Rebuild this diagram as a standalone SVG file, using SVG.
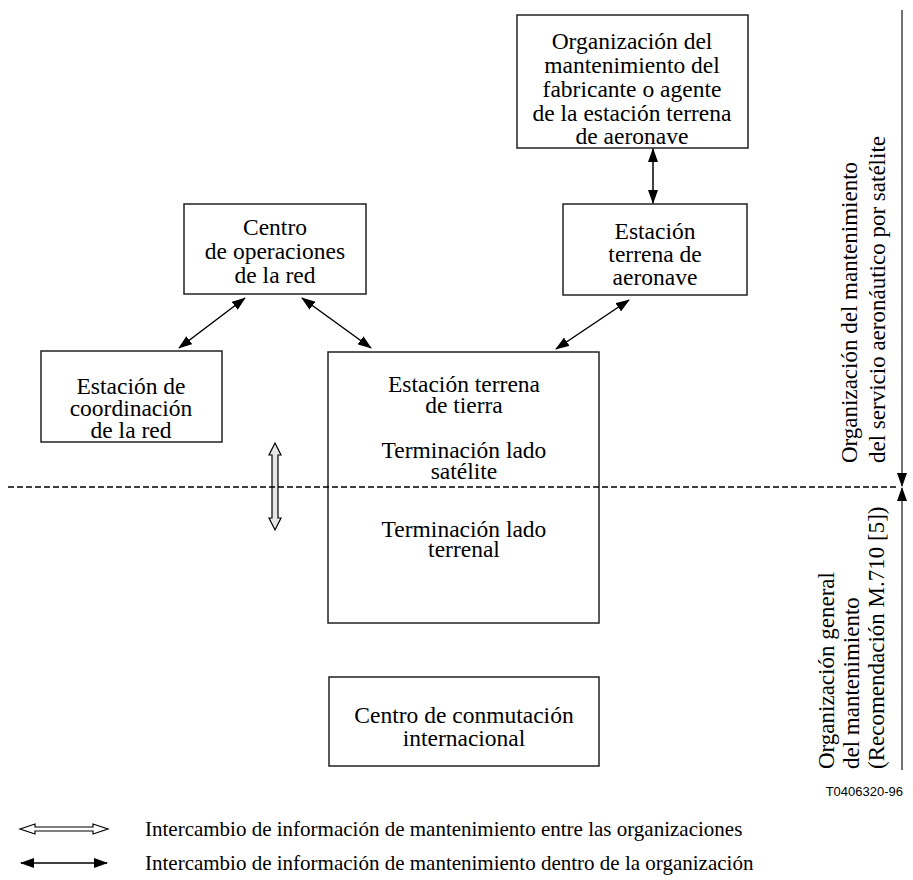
<svg xmlns="http://www.w3.org/2000/svg" width="913" height="880" viewBox="0 0 913 880">
<defs>
<style>
.box{fill:#fff;stroke:#222;stroke-width:1.5}
.t{font-family:"Liberation Serif","Times New Roman",serif;font-size:23.5px;fill:#000;text-anchor:middle}
.r{font-family:"Liberation Serif","Times New Roman",serif;font-size:23px;fill:#000}
.lg{font-family:"Liberation Serif","Times New Roman",serif;font-size:21px;fill:#000}
.c{stroke:#000;stroke-width:1.5;fill:none}
</style>
<marker id="ah" viewBox="0 0 14 10" refX="13" refY="5" markerWidth="14" markerHeight="10" markerUnits="userSpaceOnUse" orient="auto-start-reverse">
<path d="M0,0 L14,5 L0,10 Z" fill="#000"/>
</marker>
</defs>
<rect width="913" height="880" fill="#fff"/>

<g id="fabricante">
<rect class="box" x="517" y="15" width="231" height="133"/>
<text class="t" x="632" y="49">Organización del</text>
<text class="t" x="632" y="73">mantenimiento del</text>
<text class="t" x="632" y="97">fabricante o agente</text>
<text class="t" x="632" y="121">de la estación terrena</text>
<text class="t" x="632" y="144">de aeronave</text>
</g>

<g id="aeronave">
<rect class="box" x="563" y="204" width="184" height="91"/>
<text class="t" x="655" y="239">Estación</text>
<text class="t" x="655" y="262">terrena de</text>
<text class="t" x="655" y="285">aeronave</text>
</g>

<g id="centro-operaciones">
<rect class="box" x="184" y="204" width="182" height="90"/>
<text class="t" x="275" y="235">Centro</text>
<text class="t" x="275" y="259">de operaciones</text>
<text class="t" x="275" y="283">de la red</text>
</g>

<g id="coordinacion">
<rect class="box" x="41" y="351" width="181" height="91"/>
<text class="t" x="131" y="394">Estación de</text>
<text class="t" x="131" y="416">coordinación</text>
<text class="t" x="131" y="438">de la red</text>
</g>

<g id="terrena-tierra">
<rect class="box" x="328" y="352" width="271" height="271"/>
<text class="t" x="464" y="392">Estación terrena</text>
<text class="t" x="464" y="413">de tierra</text>
<text class="t" x="464" y="458">Terminación lado</text>
<text class="t" x="464" y="479">satélite</text>
<text class="t" x="464" y="537">Terminación lado</text>
<text class="t" x="464" y="557">terrenal</text>
</g>

<g id="conmutacion">
<rect class="box" x="329" y="677" width="270" height="89"/>
<text class="t" x="464" y="723">Centro de conmutación</text>
<text class="t" x="464" y="746">internacional</text>
</g>

<g id="connectors">
<line class="c" x1="653" y1="149" x2="653" y2="203" marker-start="url(#ah)" marker-end="url(#ah)"/>
<line class="c" x1="245" y1="298" x2="179" y2="348" marker-start="url(#ah)" marker-end="url(#ah)"/>
<line class="c" x1="302" y1="298" x2="371" y2="348" marker-start="url(#ah)" marker-end="url(#ah)"/>
<line class="c" x1="629" y1="300" x2="556" y2="349" marker-start="url(#ah)" marker-end="url(#ah)"/>
<path d="M275,443 L281,455 L278,455 L278,518 L281,518 L275,530 L269,518 L272,518 L272,455 L269,455 Z" fill="#e6e6e6" stroke="#000" stroke-width="1.2"/>
<line x1="8" y1="487" x2="898" y2="487" stroke="#000" stroke-width="1.5" stroke-dasharray="6,3"/>
<line x1="902" y1="10" x2="902" y2="486" stroke="#444" stroke-width="1.5" marker-end="url(#ah)"/>
<line x1="902" y1="770" x2="902" y2="488" stroke="#444" stroke-width="1.5" marker-end="url(#ah)"/>
</g>

<g id="labels">
<text class="r" transform="translate(857,463) rotate(-90)">Organización del mantenimiento</text>
<text class="r" transform="translate(885,463) rotate(-90)">del servicio aeronáutico por satélite</text>
<text class="r" transform="translate(834,769) rotate(-90)">Organización general</text>
<text class="r" transform="translate(859,769) rotate(-90)">del mantenimiento</text>
<text class="r" transform="translate(884,769) rotate(-90)">(Recomendación M.710 [5])</text>
<text x="903" y="796" font-family="Liberation Sans, Arial, sans-serif" font-size="13" text-anchor="end">T0406320-96</text>
</g>

<g id="legend">
<path d="M20,829 L35,824 L35,827 L93,827 L93,824 L108,829 L93,834 L93,831 L35,831 L35,834 Z" fill="#fff" stroke="#000" stroke-width="1.2"/>
<line class="c" x1="21" y1="863" x2="107" y2="863" marker-start="url(#ah)" marker-end="url(#ah)"/>
<text class="lg" x="145" y="836">Intercambio de información de mantenimiento entre las organizaciones</text>
<text class="lg" x="145" y="870">Intercambio de información de mantenimiento dentro de la organización</text>
</g>
</svg>
